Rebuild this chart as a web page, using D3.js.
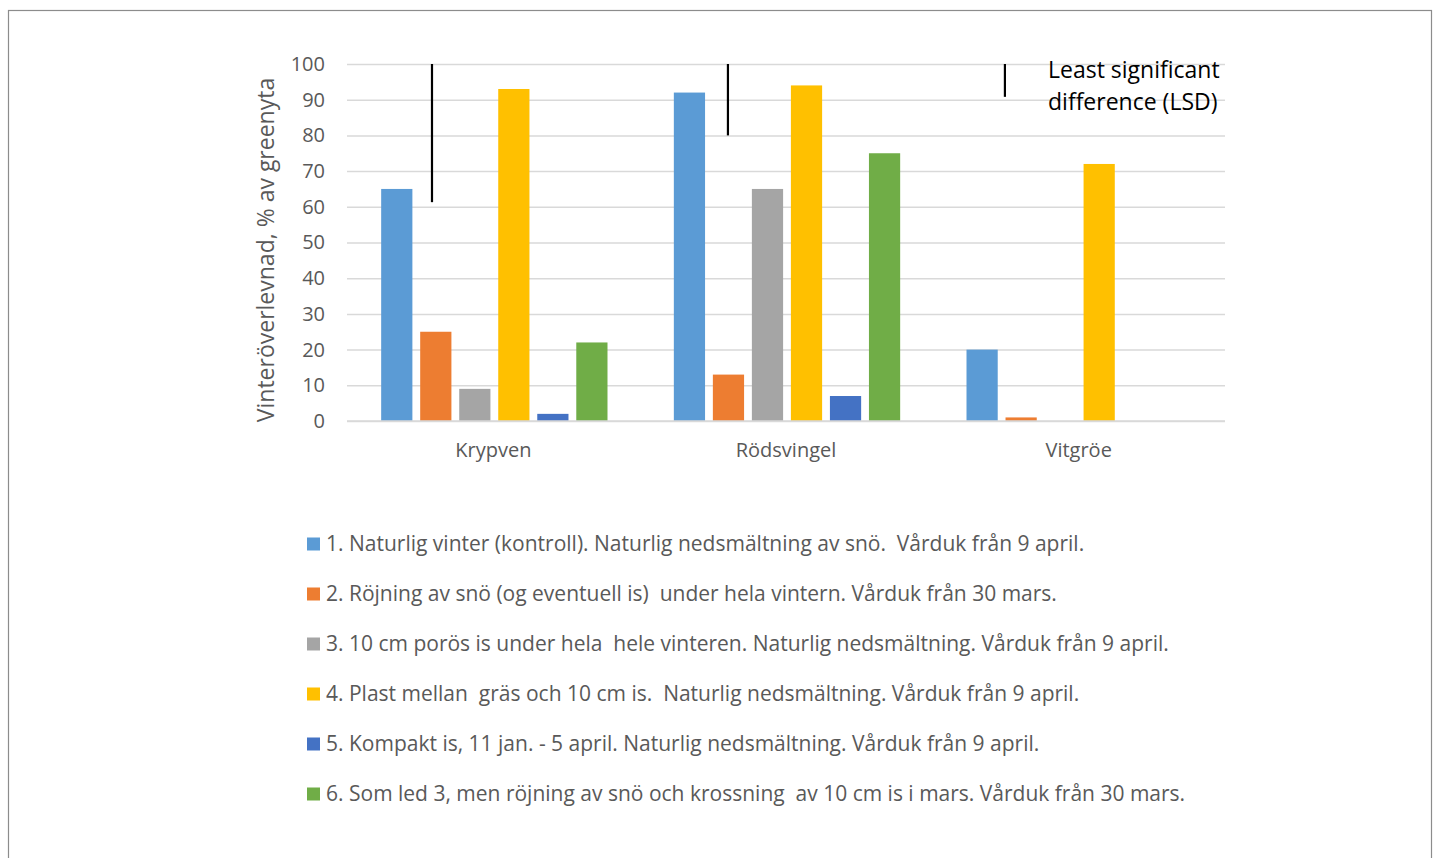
<!DOCTYPE html>
<html><head><meta charset="utf-8">
<script src="https://cdn.jsdelivr.net/npm/d3@7"></script>
<style>
body{margin:0;background:#fff;}
text{font-family:"Open Sans","Noto Sans",sans-serif;fill:#595959;white-space:pre;}
</style></head>
<body><svg id="c" width="1439" height="858"></svg>
<script>
const categories = ["Krypven","Rödsvingel","Vitgröe"];
const seriesNames = [
 "1. Naturlig vinter (kontroll). Naturlig nedsmältning av snö.  Vårduk från 9 april.",
 "2. Röjning av snö (og eventuell is)  under hela vintern. Vårduk från 30 mars.",
 "3. 10 cm porös is under hela  hele vinteren. Naturlig nedsmältning. Vårduk från 9 april.",
 "4. Plast mellan  gräs och 10 cm is.  Naturlig nedsmältning. Vårduk från 9 april.",
 "5. Kompakt is, 11 jan. - 5 april. Naturlig nedsmältning. Vårduk från 9 april.",
 "6. Som led 3, men röjning av snö och krossning  av 10 cm is i mars. Vårduk från 30 mars."
];
const seriesColors = ["#5B9BD5","#ED7D31","#A5A5A5","#FFC000","#4472C4","#70AD47"];
// values per series, in category order
const s1 = [65, 92, 20];
const s2 = [25, 13, 1];
const s3 = [9, 65, 0];
const s4 = [93, 94, 72];
const s5 = [2, 7, 0];
const s6 = [22, 75, 0];
const seriesValues = [s1,s2,s3,s4,s5,s6];
const yTicks = [0,10,20,30,40,50,60,70,80,90,100];
// LSD bars: top and bottom value, position within category band (fraction)
const lsdTop = [100, 100, 100];
const lsdBottom = [61.3, 80, 90.8];
const lsdPos = [0.238, 0.252, 0.185];
const lsdLabel = ["Least significant", "difference (LSD)"];
const yTitle = "Vinteröverlevnad, % av greenyta";

const svg = d3.select("#c");
// outer frame
svg.append("rect").attr("x",8.5).attr("y",10.5).attr("width",1423).attr("height",860)
  .attr("fill","none").attr("stroke","#8c8c8c").attr("stroke-width",1.2);

const L=347, R=1225, T=64, B=421;
const x0 = d3.scaleBand().domain(categories).range([L,R]).paddingInner(0.2).paddingOuter(0.1);
const x1 = d3.scaleBand().domain(d3.range(6)).range([0,x0.bandwidth()]).paddingInner(0.2).paddingOuter(0.1);
const y = d3.scaleLinear().domain([0,100]).range([B,T]);

// gridlines
const grid = svg.append("g").attr("transform",`translate(${L},0)`)
  .call(d3.axisLeft(y).tickValues(yTicks).tickSize(-(R-L)).tickFormat(""));
grid.select(".domain").remove();
grid.selectAll("line").attr("stroke","#d9d9d9").attr("stroke-width",1.5);

// y tick labels
const ya = svg.append("g").attr("transform",`translate(${L},0)`)
  .call(d3.axisLeft(y).tickValues(yTicks).tickSize(0).tickPadding(22));
ya.select(".domain").remove();
ya.selectAll("text").style("font-size","20px").attr("fill","#595959").style("font-family",'"Open Sans",sans-serif');

// bars
categories.forEach((c,ci)=>{
  seriesValues.forEach((vals,si)=>{
    svg.append("rect")
      .attr("x", x0(c)+x1(si)+1)
      .attr("y", y(vals[ci]))
      .attr("width", x1.bandwidth())
      .attr("height", B - y(vals[ci]))
      .attr("fill", seriesColors[si]);
  });
});

// baseline
svg.append("line").attr("x1",L).attr("x2",R).attr("y1",B).attr("y2",B)
  .attr("stroke","#d9d9d9").attr("stroke-width",1.5);

// x labels
const xa = svg.append("g").attr("transform",`translate(0,${B})`)
  .call(d3.axisBottom(x0).tickSize(0).tickPadding(22));
xa.select(".domain").remove();
xa.selectAll("text").style("font-size","20px").attr("fill","#595959").style("font-family",'"Open Sans",sans-serif');

// LSD lines
categories.forEach((c,ci)=>{
  const xx = x0(c) + lsdPos[ci]*x0.bandwidth();
  svg.append("line").attr("x1",xx).attr("x2",xx)
    .attr("y1",y(lsdTop[ci])).attr("y2",y(lsdBottom[ci]))
    .attr("stroke","#000").attr("stroke-width",2.2);
});
svg.selectAll(".lsdt").data(lsdLabel).enter().append("text")
  .attr("x",1048).attr("y",(d,i)=>78+i*32)
  .style("font-size","23px").style("fill","#000").text(d=>d);

// y title
svg.append("text").attr("transform","translate(274,250) rotate(-90)")
  .attr("text-anchor","middle").style("font-size","23px").text(yTitle);

// legend
const lg = svg.append("g");
seriesNames.forEach((n,i)=>{
  const cy = 544 + i*50;
  lg.append("rect").attr("x",307).attr("y",cy-6.5).attr("width",13).attr("height",13).attr("fill",seriesColors[i]);
  lg.append("text").attr("x",326).attr("y",cy+7).style("font-size","21px").text(n);
});
</script></body></html>
